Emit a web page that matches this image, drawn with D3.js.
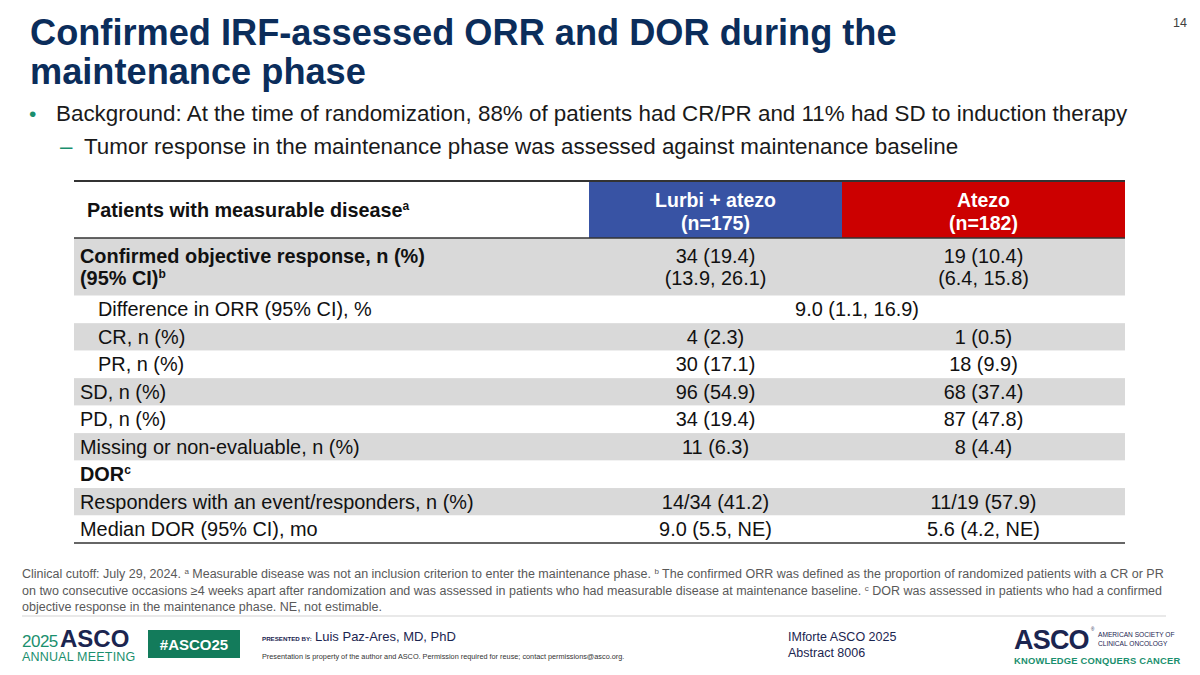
<!DOCTYPE html>
<html>
<head>
<meta charset="utf-8">
<script src="https://cdn.jsdelivr.net/npm/d3@7/dist/d3.min.js"></script>
<style>
  html, body { margin: 0; padding: 0; background: #fff; }
  svg { display: block; font-family: "Liberation Sans", Arial, sans-serif; }
</style>
</head>
<body>
<svg id="chart" width="1200" height="675"></svg>
<script>
// ---------- DATA ----------
const titleLines = ["Confirmed IRF-assessed ORR and DOR during the", "maintenance phase"];
const bulletText = "Background: At the time of randomization, 88% of patients had CR/PR and 11% had SD to induction therapy";
const subBulletText = "Tumor response in the maintenance phase was assessed against maintenance baseline";

const armNames = ["Lurbi + atezo", "Atezo"];
const armN = ["(n=175)", "(n=182)"];
const headerLabel = "Patients with measurable disease";
const headerSup = "a";

const rowLabels = [
  ["Confirmed objective response, n (%)", "(95% CI)"],
  ["Difference in ORR (95% CI), %"],
  ["CR, n (%)"],
  ["PR, n (%)"],
  ["SD, n (%)"],
  ["PD, n (%)"],
  ["Missing or non-evaluable, n (%)"],
  ["DOR"],
  ["Responders with an event/responders, n (%)"],
  ["Median DOR (95% CI), mo"]
];
const rowLabelSup = ["b", "", "", "", "", "", "", "c", "", ""];
const lurbiValues = [
  ["34 (19.4)", "(13.9, 26.1)"],
  ["9.0 (1.1, 16.9)"],
  ["4 (2.3)"],
  ["30 (17.1)"],
  ["96 (54.9)"],
  ["34 (19.4)"],
  ["11 (6.3)"],
  [],
  ["14/34 (41.2)"],
  ["9.0 (5.5, NE)"]
];
const atezoValues = [
  ["19 (10.4)", "(6.4, 15.8)"],
  null,
  ["1 (0.5)"],
  ["18 (9.9)"],
  ["68 (37.4)"],
  ["87 (47.8)"],
  ["8 (4.4)"],
  [],
  ["11/19 (57.9)"],
  ["5.6 (4.2, NE)"]
];
const rowShaded = [true, false, true, false, true, false, true, false, true, false];
const rowBold = [true, false, false, false, false, false, false, true, false, false];
const rowIndent = [false, true, true, true, false, false, false, false, false, false];

const footnoteLines = [
  [["Clinical cutoff: July 29, 2024. ", ""], ["a", "sup"], [" Measurable disease was not an inclusion criterion to enter the maintenance phase. ", ""], ["b", "sup"], [" The confirmed ORR was defined as the proportion of randomized patients with a CR or PR", ""]],
  [["on two consecutive occasions \u22654 weeks apart after randomization and was assessed in patients who had measurable disease at maintenance baseline. ", ""], ["c", "sup"], [" DOR was assessed in patients who had a confirmed", ""]],
  [["objective response in the maintenance phase. NE, not estimable.", ""]]
];
const pageNumber = "14";
const presenter = "Luis Paz-Ares, MD, PhD";
const propertyNote = "Presentation is property of the author and ASCO. Permission required for reuse; contact permissions@asco.org.";
const abstractLines = ["IMforte ASCO 2025", "Abstract 8006"];

// ---------- LAYOUT ----------
const svg = d3.select("#chart");
const NAVY = "#0b2d5b";
const TEAL = "#1a8f6e";
const BLUE = "#3853a4";
const RED = "#cc0000";
const GRAY = "#d9d9d9";
const FS = 19.9;

// Title
svg.append("g").selectAll("text").data(titleLines).join("text")
  .attr("x", 30).attr("y", (d, i) => 45 + i * 39)
  .attr("font-size", 36.2).attr("font-weight", "bold").attr("fill", NAVY)
  .text(d => d);

// Page number
svg.append("text").attr("x", 1187).attr("y", 27).attr("text-anchor", "end")
  .attr("font-size", 12.5).attr("fill", "#404040").text(pageNumber);

// Bullets
svg.append("text").attr("x", 29).attr("y", 121).attr("font-size", 21).attr("fill", TEAL).text("\u2022");
svg.append("text").attr("x", 56).attr("y", 121).attr("font-size", 22.4).attr("fill", "#1a1a1a").text(bulletText);
svg.append("text").attr("x", 60).attr("y", 154).attr("font-size", 22.4).attr("fill", TEAL).text("\u2013");
svg.append("text").attr("x", 84).attr("y", 154).attr("font-size", 22.4).attr("fill", "#1a1a1a").text(subBulletText);

// Table geometry via scales
const tableLeft = 74, tableRight = 1125;
const colX = d3.scaleOrdinal().domain(["label", "lurbi", "atezo", "end"]).range([tableLeft, 589, 842, tableRight]);
const headerTop = 181, headerBottom = 238, tableBottom = 543;
const rowUnits = rowLabels.map(l => l.length > 1 ? 2.1 : 1);
const cum = [0];
rowUnits.forEach(u => cum.push(cum[cum.length - 1] + u));
const y = d3.scaleLinear().domain([0, cum[cum.length - 1]]).range([headerBottom, tableBottom]);

const table = svg.append("g");

// Header cells
table.append("rect").attr("x", colX("lurbi")).attr("y", headerTop)
  .attr("width", colX("atezo") - colX("lurbi")).attr("height", headerBottom - headerTop).attr("fill", BLUE);
table.append("rect").attr("x", colX("atezo")).attr("y", headerTop)
  .attr("width", colX("end") - colX("atezo")).attr("height", headerBottom - headerTop).attr("fill", RED);

const hdrLabel = table.append("text").attr("x", 87).attr("y", 217)
  .attr("font-size", 19.8).attr("font-weight", "bold").attr("fill", "#111");
hdrLabel.append("tspan").text(headerLabel);
hdrLabel.append("tspan").attr("font-size", 12).attr("dy", -7).text(headerSup);

const armCenters = [(colX("lurbi") + colX("atezo")) / 2, (colX("atezo") + colX("end")) / 2];
armNames.forEach((name, i) => {
  table.append("text").attr("x", armCenters[i]).attr("y", 207).attr("text-anchor", "middle")
    .attr("font-size", 19.5).attr("font-weight", "bold").attr("fill", "#fff").text(name);
  table.append("text").attr("x", armCenters[i]).attr("y", 230).attr("text-anchor", "middle")
    .attr("font-size", 19.5).attr("font-weight", "bold").attr("fill", "#fff").text(armN[i]);
});

// Row backgrounds
const rows = table.selectAll("g.row").data(rowLabels.map((l, i) => i)).join("g").attr("class", "row");
rows.append("rect")
  .attr("x", tableLeft).attr("width", tableRight - tableLeft)
  .attr("y", i => y(cum[i])).attr("height", i => y(cum[i + 1]) - y(cum[i]))
  .attr("fill", i => rowShaded[i] ? GRAY : "#fff");

const lineGap = 22.5;
function linesY(i, n) {
  const mid = (y(cum[i]) + y(cum[i + 1])) / 2;
  return d3.range(n).map(k => mid + 7 + (k - (n - 1) / 2) * lineGap);
}

// Row labels and values
rows.each(function(i) {
  const g = d3.select(this);
  const ys = linesY(i, rowLabels[i].length);
  rowLabels[i].forEach((txt, k) => {
    const t = g.append("text").attr("x", rowIndent[i] ? 98 : 80).attr("y", ys[k])
      .attr("font-size", FS).attr("fill", "#111")
      .attr("font-weight", rowBold[i] ? "bold" : "normal");
    t.append("tspan").text(txt);
    if (k === rowLabels[i].length - 1 && rowLabelSup[i]) {
      t.append("tspan").attr("font-size", 12).attr("dy", -7).text(rowLabelSup[i]);
    }
  });
  const lv = lurbiValues[i], av = atezoValues[i];
  if (av === null) {
    const ys2 = linesY(i, lv.length);
    lv.forEach((txt, k) => g.append("text").attr("x", (colX("lurbi") + colX("end")) / 2).attr("y", ys2[k])
      .attr("text-anchor", "middle").attr("font-size", FS).attr("fill", "#111").text(txt));
  } else {
    [lv, av].forEach((vals, c) => {
      const ys2 = linesY(i, vals.length);
      vals.forEach((txt, k) => g.append("text").attr("x", armCenters[c]).attr("y", ys2[k])
        .attr("text-anchor", "middle").attr("font-size", FS).attr("fill", "#111").text(txt));
    });
  }
});

// Rules
table.append("line").attr("x1", tableLeft).attr("x2", tableRight).attr("y1", headerTop).attr("y2", headerTop)
  .attr("stroke", "#333").attr("stroke-width", 2);
table.append("line").attr("x1", tableLeft).attr("x2", tableRight).attr("y1", headerBottom).attr("y2", headerBottom)
  .attr("stroke", "#333").attr("stroke-width", 1.5);
table.append("line").attr("x1", tableLeft).attr("x2", tableRight).attr("y1", tableBottom).attr("y2", tableBottom)
  .attr("stroke", "#333").attr("stroke-width", 1.5);

// Footnotes
footnoteLines.forEach((parts, i) => {
  const t = svg.append("text").attr("x", 22).attr("y", 578 + i * 16.5)
    .attr("font-size", 12.5).attr("fill", "#595959");
  let raised = false;
  parts.forEach(([txt, kind]) => {
    if (kind === "sup") {
      t.append("tspan").attr("font-size", 8).attr("dy", -4).text(txt);
      raised = true;
    } else {
      const s = t.append("tspan").text(txt);
      if (raised) { s.attr("dy", 4); raised = false; }
    }
  });
});
svg.append("line").attr("x1", 22).attr("x2", 1166).attr("y1", 616).attr("y2", 616)
  .attr("stroke", "#e2e2e2").attr("stroke-width", 1.5);

// Footer: left ASCO meeting logo
svg.append("text").attr("x", 22).attr("y", 647).attr("font-size", 17).attr("fill", TEAL).attr("letter-spacing", -0.5).text("2025");
svg.append("text").attr("x", 60).attr("y", 647).attr("font-size", 24).attr("font-weight", "bold").attr("fill", "#1b2550").text("ASCO");
svg.append("text").attr("x", 22).attr("y", 661).attr("font-size", 12.5).attr("fill", TEAL).attr("letter-spacing", 0.2).text("ANNUAL MEETING");

svg.append("rect").attr("x", 148).attr("y", 630).attr("width", 92).attr("height", 28).attr("fill", "#137b5b");
svg.append("text").attr("x", 194).attr("y", 650).attr("text-anchor", "middle").attr("font-size", 15)
  .attr("font-weight", "bold").attr("fill", "#fff").text("#ASCO25");

svg.append("text").attr("x", 262).attr("y", 641).attr("font-size", 6.2).attr("font-weight", "bold")
  .attr("fill", "#1b2550").attr("letter-spacing", 0).text("PRESENTED BY:");
svg.append("text").attr("x", 315).attr("y", 641).attr("font-size", 13).attr("fill", "#1b2550").text(presenter);
svg.append("text").attr("x", 262).attr("y", 659).attr("font-size", 7.3).attr("fill", "#333").text(propertyNote);

svg.append("g").selectAll("text").data(abstractLines).join("text")
  .attr("x", 788).attr("y", (d, i) => 641 + i * 16).attr("font-size", 12.5).attr("fill", "#1b2550").text(d => d);

// Footer: right ASCO logo
svg.append("text").attr("x", 1014).attr("y", 649).attr("font-size", 27).attr("font-weight", "bold")
  .attr("fill", "#1b2550").attr("letter-spacing", -0.8).text("ASCO");
svg.append("text").attr("x", 1091).attr("y", 631).attr("font-size", 4.5).attr("fill", "#1b2550").text("\u00AE");
svg.append("text").attr("x", 1098).attr("y", 637).attr("font-size", 6.6).attr("fill", "#1b2550").text("AMERICAN SOCIETY OF");
svg.append("text").attr("x", 1098).attr("y", 646).attr("font-size", 6.6).attr("fill", "#1b2550").text("CLINICAL ONCOLOGY");
svg.append("text").attr("x", 1014).attr("y", 664).attr("font-size", 9.4).attr("font-weight", "bold")
  .attr("fill", TEAL).attr("letter-spacing", 0.2).text("KNOWLEDGE CONQUERS CANCER");
</script>
</body>
</html>
